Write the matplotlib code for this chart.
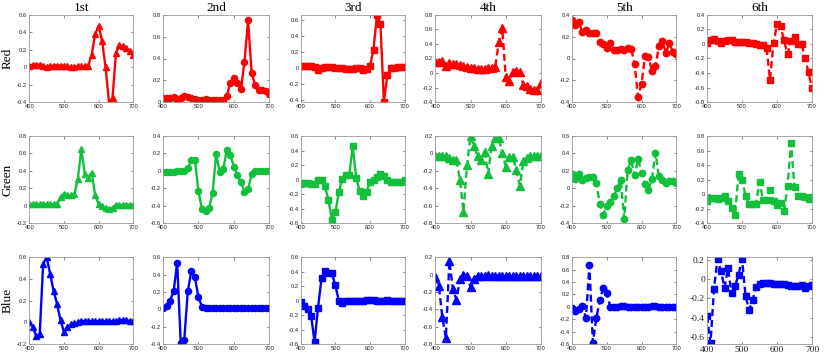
import matplotlib
matplotlib.use('Agg')
import matplotlib.pyplot as plt
import numpy as np

plt.rcParams['axes.unicode_minus'] = False

wavelength = list(range(400, 701, 10))
col_titles = ['1st', '2nd', '3rd', '4th', '5th', '6th']
row_labels = ['Red', 'Green', 'Blue']

red_1st = [0.02, 0.03, 0.03, 0.03, 0.02, 0.00, 0.01, 0.02, 0.02, 0.02, 0.01, 0.01, 0.00, 0.00, 0.01, 0.01,
           0.01, 0.02, 0.14, 0.38, 0.47, 0.30, 0.00, -0.40, -0.35, 0.16, 0.25, 0.24, 0.22, 0.19, 0.14]
red_2nd = [0.04, 0.04, 0.04, 0.05, 0.02, 0.04, 0.06, 0.05, 0.04, 0.03, 0.02, 0.02, 0.03, 0.02, 0.02, 0.02,
           0.02, 0.02, 0.06, 0.18, 0.22, 0.18, 0.12, 0.37, 0.75, 0.27, 0.16, 0.11, 0.11, 0.10, 0.08]
red_3rd = [0.03, 0.03, 0.03, 0.02, 0.01, -0.02, 0.00, 0.01, 0.01, 0.01, 0.00, 0.00, 0.00, -0.01, -0.01, -0.01,
           0.00, 0.00, -0.02, -0.01, 0.03, 0.23, 0.67, 0.55, -0.42, -0.09, 0.00, 0.00, 0.01, 0.01, 0.01]
red_4th = [0.15, 0.15, 0.16, 0.10, 0.14, 0.13, 0.12, 0.11, 0.10, 0.08, 0.07, 0.07, 0.06, 0.05, 0.06, 0.07,
           0.07, 0.08, 0.42, 0.62, -0.06, -0.11, 0.01, 0.03, 0.01, -0.16, -0.18, -0.22, -0.23, -0.23, -0.14]
red_5th = [0.35, 0.31, 0.33, 0.24, 0.26, 0.23, 0.23, 0.23, 0.15, 0.13, 0.10, 0.14, 0.08, 0.08, 0.09, 0.08,
           0.10, 0.09, -0.05, -0.35, -0.23, 0.02, 0.01, -0.11, -0.07, 0.11, 0.16, 0.05, 0.14, 0.06, 0.04]
red_6th = [0.01, 0.05, 0.07, 0.04, 0.01, 0.04, 0.06, 0.05, 0.03, 0.03, 0.02, 0.02, 0.01, 0.01, 0.00, -0.01,
           -0.01, -0.05, -0.49, 0.01, 0.27, 0.24, 0.05, -0.14, 0.04, 0.10, 0.00, 0.00, -0.19, -0.39, -0.61]

green_1st = [0.02, 0.02, 0.02, 0.02, 0.02, 0.02, 0.02, 0.02, 0.02, 0.10, 0.14, 0.12, 0.12, 0.13, 0.31, 0.65,
             0.37, 0.32, 0.38, 0.12, 0.02, 0.00, -0.02, -0.04, -0.02, 0.01, 0.01, 0.01, 0.01, 0.01, 0.01]
green_2nd = [-0.01, -0.01, -0.01, -0.01, 0.00, 0.00, 0.00, 0.03, 0.12, 0.12, -0.23, -0.44, -0.46, -0.43, -0.25, 0.19,
             -0.01, 0.02, 0.24, 0.18, 0.05, -0.05, -0.13, -0.24, -0.21, -0.04, 0.00, 0.00, 0.00, 0.00, 0.00]
green_3rd = [-0.06, -0.05, -0.05, -0.06, -0.06, 0.00, 0.00, -0.09, -0.28, -0.55, -0.45, -0.17, 0.01, 0.07, 0.06, 0.46,
             0.02, -0.15, -0.23, -0.17, -0.03, -0.01, 0.03, 0.08, 0.05, -0.01, -0.03, -0.03, -0.03, -0.03, -0.01]
green_4th = [-0.03, -0.03, -0.03, -0.03, -0.05, -0.08, -0.08, -0.30, -0.67, -0.13, 0.20, 0.08, -0.03, -0.07, 0.02, -0.23,
             0.09, 0.18, 0.18, 0.00, -0.15, -0.04, -0.04, -0.19, -0.37, -0.09, -0.05, -0.03, -0.03, -0.03, -0.03]
green_5th = [0.16, 0.11, 0.16, 0.10, 0.12, 0.13, 0.13, 0.06, -0.18, -0.30, -0.20, -0.16, -0.09, 0.00, 0.10, -0.35,
             0.21, 0.32, 0.15, 0.34, 0.18, 0.05, -0.02, 0.11, 0.41, 0.14, 0.10, 0.06, 0.08, 0.09, 0.06]
green_6th = [-0.10, -0.05, -0.05, -0.06, -0.05, -0.03, -0.09, -0.19, -0.29, 0.28, 0.20, -0.02, -0.14, -0.14, -0.13, 0.17,
             -0.08, -0.08, 0.06, -0.10, -0.15, -0.12, -0.23, 0.11, 0.70, 0.10, -0.02, -0.03, -0.04, -0.06, -0.04]

blue_1st = [0.00, -0.04, -0.13, -0.11, 0.54, 0.60, 0.45, 0.29, 0.17, 0.02, -0.09, -0.04, -0.02, -0.01, 0.00, 0.01,
            0.01, 0.01, 0.01, 0.01, 0.01, 0.01, 0.01, 0.01, 0.01, 0.01, 0.02, 0.02, 0.02, 0.01, 0.01]
blue_2nd = [0.02, 0.04, 0.10, 0.21, 0.54, -0.39, -0.35, 0.21, 0.44, 0.37, 0.14, 0.03, 0.01, 0.01, 0.01, 0.01,
            0.01, 0.01, 0.01, 0.01, 0.01, 0.01, 0.01, 0.01, 0.01, 0.01, 0.02, 0.02, 0.02, 0.01, 0.01]
blue_3rd = [-0.02, -0.07, -0.12, -0.21, -0.57, -0.10, 0.31, 0.41, 0.38, 0.38, 0.21, 0.00, -0.03, -0.01, -0.01, 0.00,
            0.00, 0.00, 0.00, 0.01, 0.01, 0.01, 0.00, 0.00, 0.00, 0.01, 0.00, 0.00, 0.00, 0.00, 0.00]
blue_4th = [-0.03, -0.13, -0.49, -0.73, 0.16, -0.17, -0.29, -0.05, 0.00, -0.02, -0.14, -0.05, -0.01, -0.01, -0.01, 0.00,
            -0.01, -0.01, -0.01, -0.02, -0.02, -0.02, -0.02, -0.02, -0.02, -0.02, -0.02, -0.02, -0.02, -0.02, -0.02]
blue_5th = [-0.02, -0.07, -0.04, 0.02, -0.18, 0.67, -0.58, -0.18, 0.11, 0.31, 0.23, 0.00, -0.01, -0.01, 0.01, 0.01,
            0.00, 0.00, 0.00, 0.00, 0.00, 0.00, 0.00, 0.01, 0.01, -0.01, 0.00, 0.00, 0.00, 0.00, 0.00]
blue_6th = [-0.38, -0.66, -0.10, 0.21, 0.08, -0.09, 0.11, -0.14, -0.07, 0.04, 0.21, -0.17, -0.32, -0.22, -0.08, -0.05,
            -0.04, -0.04, -0.04, -0.05, -0.05, -0.05, -0.05, -0.06, -0.07, -0.07, -0.07, -0.06, -0.09, -0.07, -0.06]

series = [
    [red_1st, red_2nd, red_3rd, red_4th, red_5th, red_6th],
    [green_1st, green_2nd, green_3rd, green_4th, green_5th, green_6th],
    [blue_1st, blue_2nd, blue_3rd, blue_4th, blue_5th, blue_6th],
]

# y axis ranges (ticks from, to) and limits
ytick_ranges = [
    [(-0.4, 0.6), (0.0, 0.8), (-0.4, 0.6), (-0.4, 0.8), (-0.4, 0.4), (-0.8, 0.4)],
    [(-0.2, 0.8), (-0.6, 0.4), (-0.6, 0.6), (-0.8, 0.2), (-0.4, 0.6), (-0.4, 0.8)],
    [(-0.2, 0.6), (-0.4, 0.6), (-0.6, 0.6), (-0.8, 0.2), (-0.6, 0.8), (-0.6, 0.2)],
]
ylim_override = {(0, 2): (-0.43, 0.67), (2, 5): (-0.67, 0.225)}

colors = ['#ff0000', '#12c03c', '#0000ff']
markers = ['^', 'o', 's', '^', 'o', 's']
msizes = [4.8, 4.4, 3.9, 5.2, 4.6, 4.2]
dash = (0, (3.0, 1.6))
linestyles = ['-', '-', '-', dash, dash, dash]

W, H = 831, 362
fig = plt.figure(figsize=(W / 100, H / 100), dpi=100)

col_px = [(29.3, 133.3), (163, 269.3), (300.7, 404.7), (435.3, 541), (572, 676.3), (707, 812)]
row_px = [(14.7, 102.3), (136, 223.3), (257.3, 344)]

serif = ['Liberation Serif', 'DejaVu Serif']
sans = ['Liberation Sans', 'DejaVu Sans']

for r in range(3):
    for c in range(6):
        x0, x1 = col_px[c]
        y0, y1 = row_px[r]
        ax = fig.add_axes([x0 / W, 1 - y1 / H, (x1 - x0) / W, (y1 - y0) / H])
        ax.plot(wavelength, series[r][c], color=colors[r], marker=markers[c], ms=msizes[c],
                lw=1.7, linestyle=linestyles[c], markeredgecolor=colors[r], markerfacecolor=colors[r])
        ax.set_xlim(400, 700)
        lo, hi = ytick_ranges[r][c]
        ticks = np.round(np.arange(lo, hi + 1e-9, 0.2), 2)
        ax.set_ylim(*ylim_override.get((r, c), (lo, hi)))
        ax.set_yticks(ticks)
        ax.set_yticklabels([f'{t:g}' if abs(t) > 1e-9 else '0' for t in ticks])
        ax.set_xticks([400, 500, 600, 700])
        ax.set_xticklabels(['400', '500', '600', '700'])
        big = (r, c) == (2, 5)
        for sp in ax.spines.values():
            sp.set_color('#9a9a9a')
            sp.set_linewidth(0.6)
        ax.tick_params(direction='in', top=True, right=True, length=1.8, width=0.5,
                       colors='#555555', pad=1.5)
        for lab in ax.get_xticklabels() + ax.get_yticklabels():
            lab.set_color('#222222')
            if big:
                lab.set_fontfamily(serif)
                lab.set_fontsize(6.8)
            else:
                lab.set_fontfamily(sans)
                lab.set_fontsize(4.2)
        if r == 0:
            ax.set_title(col_titles[c], fontsize=9.5, family=serif, pad=2.5)
    yc = (row_px[r][0] + row_px[r][1]) / 2
    fig.text(7.5 / W, 1 - yc / H, row_labels[r], rotation=90, va='center', ha='center',
             fontsize=9.5, family=serif)

fig.savefig('out.png', dpi=100)
